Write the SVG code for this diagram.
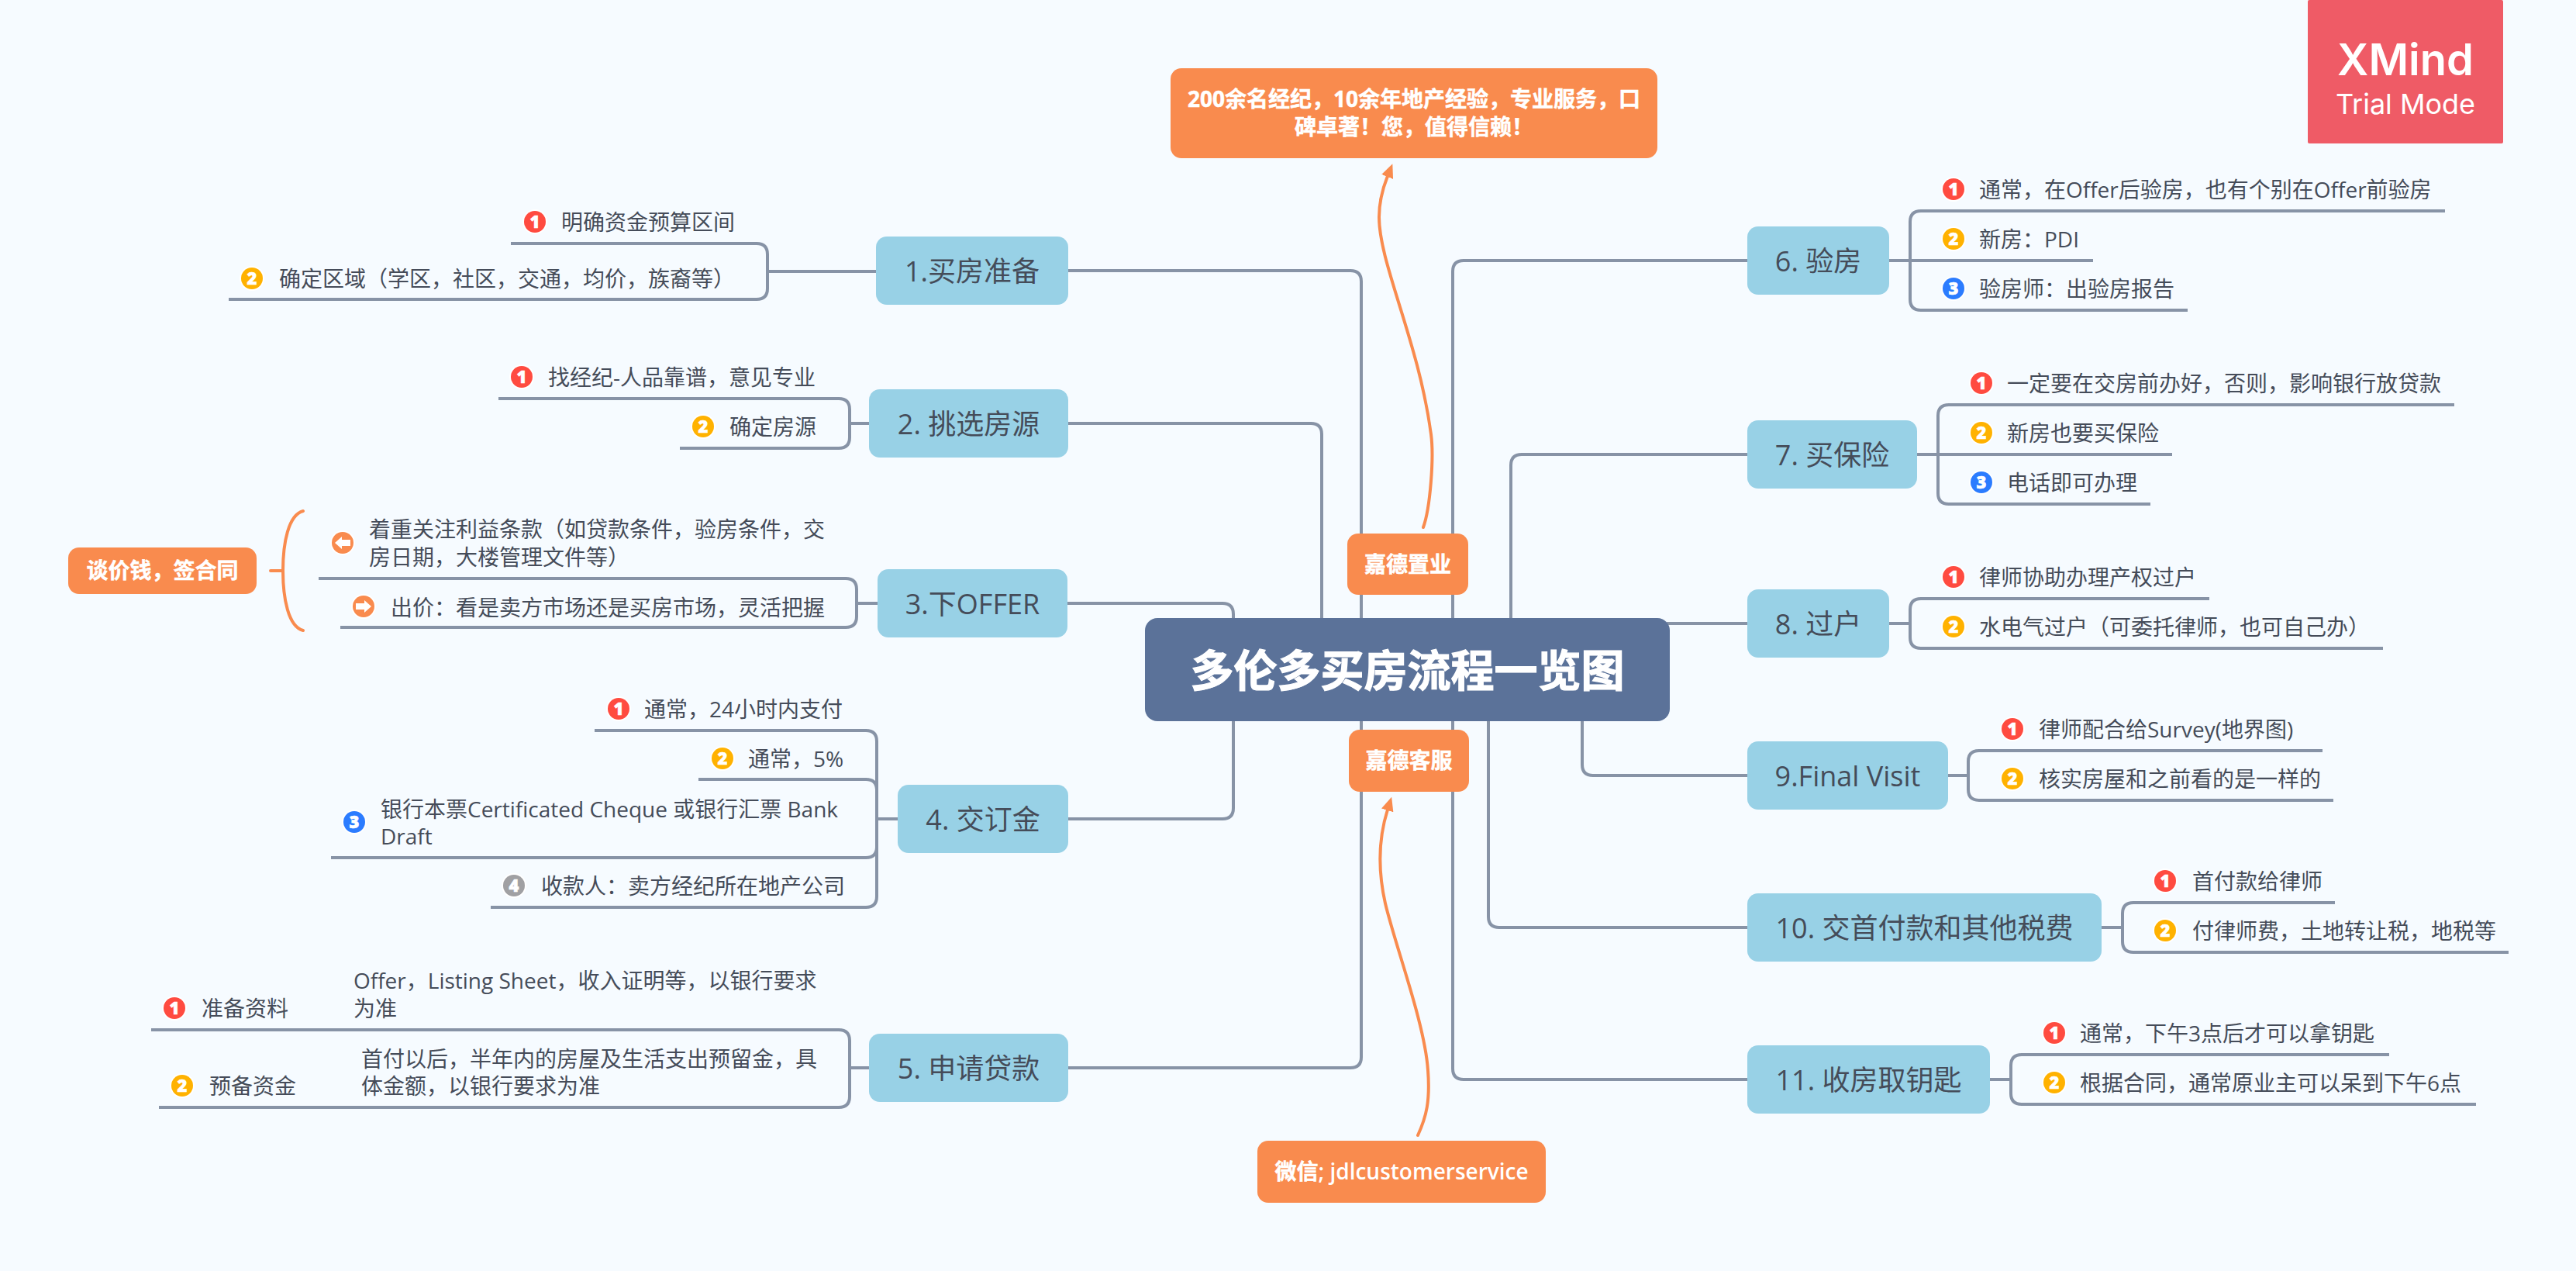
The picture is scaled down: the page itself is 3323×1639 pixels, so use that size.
<svg xmlns="http://www.w3.org/2000/svg" width="3323" height="1639" viewBox="0 0 3323 1639">
<style>
text{font-family:"Open Sans","Noto Sans CJK SC",sans-serif;fill:#454c59}
.s{font-size:28px;transform:translateY(1px)}
.t{font-size:36px;text-anchor:middle;transform:translateY(1px)}
.o{font-size:28px;font-weight:700;fill:#fff;text-anchor:middle;stroke:#fff;stroke-width:.5px}
.o tspan{font-weight:600;stroke-width:0}
.c{font-size:56px;font-weight:700;fill:#fff;text-anchor:middle;stroke:#fff;stroke-width:1.2px;transform:translateY(1px)}
.tb{fill:#98d1e6}
.ob{fill:#f98b4e}
.ln{fill:none;stroke:#8793a6;stroke-width:4}
.ar{fill:none;stroke:#f98b4e;stroke-width:4;stroke-linecap:round}
.ring{fill:#fff}
.d{font-size:22px;font-weight:800;fill:#fff;text-anchor:middle;stroke:#fff;stroke-width:.6px}
.r{fill:#ff4b40}.y{fill:#ffb200}.b{fill:#2b7cff}.g{fill:#a0a0a3}.a{fill:#f98b4e}
.wm{fill:#fff;font-family:Inter,"Open Sans",sans-serif;text-anchor:middle}
</style>
<defs>
<marker id="ah" markerUnits="userSpaceOnUse" markerWidth="18" markerHeight="16" refX="1" refY="8" orient="auto"><path d="M0 0L18 8L0 16Z" fill="#f98b4e"/></marker>
</defs>
<rect width="3323" height="1639" fill="#f6fbff"/>
<g id="connectors">
<path class="ln" d="M1378 349H1742Q1756 349 1756 363V800"/>
<path class="ln" d="M1378 546H1691Q1705 546 1705 560V800"/>
<path class="ln" d="M1377 778H1577Q1591 778 1591 792V800"/>
<path class="ln" d="M1378 1056H1577Q1591 1056 1591 1042V928"/>
<path class="ln" d="M1378 1377H1742Q1756 1377 1756 1363V928"/>
<path class="ln" d="M2254 336H1888Q1874 336 1874 350V800"/>
<path class="ln" d="M2254 586H1963Q1949 586 1949 600V800"/>
<path class="ln" d="M2150 804H2254"/>
<path class="ln" d="M2254 1000H2055Q2041 1000 2041 986V928"/>
<path class="ln" d="M2254 1196H1934Q1920 1196 1920 1182V928"/>
<path class="ln" d="M2254 1392H1888Q1874 1392 1874 1378V928"/>
<path class="ln" d="M659 314H976Q990 314 990 328V372Q990 386 976 386H295M990 350H1130"/>
<path class="ln" d="M643 514H1082Q1096 514 1096 528V564Q1096 578 1082 578H877M1096 546H1121"/>
<path class="ln" d="M411 746H1091Q1105 746 1105 760V795Q1105 809 1091 809H439M1105 778H1132"/>
<path class="ln" d="M767 942H1117Q1131 942 1131 956V1156Q1131 1170 1117 1170H633M901 1005H1117Q1131 1005 1131 1019V1092Q1131 1106 1117 1106H427M1131 1056H1158"/>
<path class="ln" d="M195 1328H1082Q1096 1328 1096 1342V1414Q1096 1428 1082 1428H205M1096 1377H1121"/>
<path class="ln" d="M3154 272H2478Q2464 272 2464 286V386Q2464 400 2478 400H2822M2437 336H2700"/>
<path class="ln" d="M3166 522H2514Q2500 522 2500 536V636Q2500 650 2514 650H2774M2473 586H2802"/>
<path class="ln" d="M2850 772H2478Q2464 772 2464 786V822Q2464 836 2478 836H3074M2437 804H2464"/>
<path class="ln" d="M2996 968H2553Q2539 968 2539 982V1018Q2539 1032 2553 1032H3010M2513 1000H2539"/>
<path class="ln" d="M3012 1164H2752Q2738 1164 2738 1178V1214Q2738 1228 2752 1228H3236M2711 1196H2738"/>
<path class="ln" d="M3082 1360H2608Q2594 1360 2594 1374V1410Q2594 1424 2608 1424H3194M2567 1392H2594"/>
<path class="ar" d="M391 659C372 664 365 700 365 736C365 772 372 808 391 813M349 736H365"/>
<path class="ar" marker-end="url(#ah)" d="M1836 680C1845 655 1850 590 1846 560C1830 440 1779 340 1779 280C1779 262 1784 242 1790 227"/>
<path class="ar" marker-end="url(#ah)" d="M1829 1464C1840 1440 1845 1420 1842 1380C1838 1320 1800 1220 1787 1165C1778 1125 1777 1085 1790 1044"/>
</g>
<g id="center"><rect x="1477" y="797" width="677" height="133" rx="16" fill="#5b7299"/><text class="c" x="1815.500" y="884">多伦多买房流程一览图</text></g>
<g id="topic1"><rect class="tb" x="1130" y="305" width="248" height="88" rx="14"/><text class="t" x="1254" y="362">1.买房准备</text></g>
<g id="topic2"><rect class="tb" x="1121" y="502" width="257" height="88" rx="14"/><text class="t" x="1249.500" y="559">2. 挑选房源</text></g>
<g id="topic3"><rect class="tb" x="1132" y="734" width="245" height="88" rx="14"/><text class="t" x="1254.500" y="791">3.下OFFER</text></g>
<g id="topic4"><rect class="tb" x="1158" y="1012" width="220" height="88" rx="14"/><text class="t" x="1268" y="1069">4. 交订金</text></g>
<g id="topic5"><rect class="tb" x="1121" y="1333" width="257" height="88" rx="14"/><text class="t" x="1249.500" y="1390">5. 申请贷款</text></g>
<g id="topic6"><rect class="tb" x="2254" y="292" width="183" height="88" rx="14"/><text class="t" x="2345.500" y="349">6. 验房</text></g>
<g id="topic7"><rect class="tb" x="2254" y="542" width="219" height="88" rx="14"/><text class="t" x="2363.500" y="599">7. 买保险</text></g>
<g id="topic8"><rect class="tb" x="2254" y="760" width="183" height="88" rx="14"/><text class="t" x="2345.500" y="817">8. 过户</text></g>
<g id="topic9"><rect class="tb" x="2254" y="956" width="259" height="88" rx="14"/><text class="t" x="2383.500" y="1013">9.Final Visit</text></g>
<g id="topic10"><rect class="tb" x="2254" y="1152" width="457" height="88" rx="14"/><text class="t" x="2482.500" y="1209">10. 交首付款和其他税费</text></g>
<g id="topic11"><rect class="tb" x="2254" y="1348" width="313" height="88" rx="14"/><text class="t" x="2410.500" y="1405">11. 收房取钥匙</text></g>
<g id="note-company"><rect class="ob" x="1738" y="688" width="156" height="79" rx="14"/><text class="o" x="1816" y="738">嘉德置业</text></g>
<g id="note-service"><rect class="ob" x="1740" y="941" width="155" height="80" rx="14"/><text class="o" x="1817.500" y="991">嘉德客服</text></g>
<g id="note-agents"><rect class="ob" x="1510" y="88" width="628" height="116" rx="14"/><text class="o" x="1824" y="138">200余名经纪，10余年地产经验，专业服务，口</text><text class="o" x="1824" y="174">碑卓著！您，值得信赖！</text></g>
<g id="note-wechat"><rect class="ob" x="1622" y="1471" width="372" height="80" rx="14"/><text class="o" x="1808" y="1521">微信<tspan>; jdlcustomerservice</tspan></text></g>
<g id="note-price"><rect class="ob" x="88" y="706" width="243" height="60" rx="14"/><text class="o" x="209.500" y="746">谈价钱，签合同</text></g>
<g id="s1-1"><circle class="ring" cx="690" cy="286" r="16"/><circle class="r" cx="690" cy="286" r="14"/><text class="d" x="690" y="294">1</text><text class="s" x="724" y="296">明确资金预算区间</text></g>
<g id="s1-2"><circle class="ring" cx="325" cy="359" r="16"/><circle class="y" cx="325" cy="359" r="14"/><text class="d" x="325" y="367">2</text><text class="s" x="360" y="369">确定区域（学区，社区，交通，均价，族裔等）</text></g>
<g id="s2-1"><circle class="ring" cx="673" cy="486" r="16"/><circle class="r" cx="673" cy="486" r="14"/><text class="d" x="673" y="494">1</text><text class="s" x="707" y="496">找经纪-人品靠谱，意见专业</text></g>
<g id="s2-2"><circle class="ring" cx="907" cy="550" r="16"/><circle class="y" cx="907" cy="550" r="14"/><text class="d" x="907" y="558">2</text><text class="s" x="941" y="560">确定房源</text></g>
<g id="s3-1"><circle class="ring" cx="442" cy="700" r="16"/><circle class="a" cx="442" cy="700" r="14"/><path d="M432 700L441 692V696H452V704H441V708Z" fill="#fff"/><text class="s" x="476" y="692">着重关注利益条款（如贷款条件，验房条件，交</text><text class="s" x="476" y="728">房日期，大楼管理文件等）</text></g>
<g id="s3-2"><circle class="ring" cx="469" cy="782" r="16"/><circle class="a" cx="469" cy="782" r="14"/><path d="M479 782L470 774V778H459V786H470V790Z" fill="#fff"/><text class="s" x="504" y="793">出价：看是卖方市场还是买房市场，灵活把握</text></g>
<g id="s4-1"><circle class="ring" cx="798" cy="914" r="16"/><circle class="r" cx="798" cy="914" r="14"/><text class="d" x="798" y="922">1</text><text class="s" x="831" y="924">通常，24小时内支付</text></g>
<g id="s4-2"><circle class="ring" cx="932" cy="978" r="16"/><circle class="y" cx="932" cy="978" r="14"/><text class="d" x="932" y="986">2</text><text class="s" x="965" y="988">通常，5%</text></g>
<g id="s4-3"><circle class="ring" cx="457" cy="1060" r="16"/><circle class="b" cx="457" cy="1060" r="14"/><text class="d" x="457" y="1068">3</text><text class="s" x="491" y="1053">银行本票Certificated Cheque 或银行汇票 Bank</text><text class="s" x="491" y="1088">Draft</text></g>
<g id="s4-4"><circle class="ring" cx="663" cy="1142" r="16"/><circle class="g" cx="663" cy="1142" r="14"/><text class="d" x="663" y="1150">4</text><text class="s" x="698" y="1152">收款人：卖方经纪所在地产公司</text></g>
<g id="s5-1"><circle class="ring" cx="225" cy="1300" r="16"/><circle class="r" cx="225" cy="1300" r="14"/><text class="d" x="225" y="1308">1</text><text class="s" x="260" y="1310">准备资料</text><text class="s" x="456" y="1274">Offer，Listing Sheet，收入证明等，以银行要求</text><text class="s" x="456" y="1310">为准</text></g>
<g id="s5-2"><circle class="ring" cx="235" cy="1400" r="16"/><circle class="y" cx="235" cy="1400" r="14"/><text class="d" x="235" y="1408">2</text><text class="s" x="270" y="1410">预备资金</text><text class="s" x="466" y="1375">首付以后，半年内的房屋及生活支出预留金，具</text><text class="s" x="466" y="1410">体金额，以银行要求为准</text></g>
<g id="s6-1"><circle class="ring" cx="2520" cy="244" r="16"/><circle class="r" cx="2520" cy="244" r="14"/><text class="d" x="2520" y="252">1</text><text class="s" x="2553" y="254">通常，在Offer后验房，也有个别在Offer前验房</text></g>
<g id="s6-2"><circle class="ring" cx="2520" cy="308" r="16"/><circle class="y" cx="2520" cy="308" r="14"/><text class="d" x="2520" y="316">2</text><text class="s" x="2553" y="318">新房：PDI</text></g>
<g id="s6-3"><circle class="ring" cx="2520" cy="372" r="16"/><circle class="b" cx="2520" cy="372" r="14"/><text class="d" x="2520" y="380">3</text><text class="s" x="2553" y="382">验房师：出验房报告</text></g>
<g id="s7-1"><circle class="ring" cx="2556" cy="494" r="16"/><circle class="r" cx="2556" cy="494" r="14"/><text class="d" x="2556" y="502">1</text><text class="s" x="2589" y="504">一定要在交房前办好，否则，影响银行放贷款</text></g>
<g id="s7-2"><circle class="ring" cx="2556" cy="558" r="16"/><circle class="y" cx="2556" cy="558" r="14"/><text class="d" x="2556" y="566">2</text><text class="s" x="2589" y="568">新房也要买保险</text></g>
<g id="s7-3"><circle class="ring" cx="2556" cy="622" r="16"/><circle class="b" cx="2556" cy="622" r="14"/><text class="d" x="2556" y="630">3</text><text class="s" x="2589" y="632">电话即可办理</text></g>
<g id="s8-1"><circle class="ring" cx="2520" cy="744" r="16"/><circle class="r" cx="2520" cy="744" r="14"/><text class="d" x="2520" y="752">1</text><text class="s" x="2553" y="754">律师协助办理产权过户</text></g>
<g id="s8-2"><circle class="ring" cx="2520" cy="808" r="16"/><circle class="y" cx="2520" cy="808" r="14"/><text class="d" x="2520" y="816">2</text><text class="s" x="2553" y="818">水电气过户（可委托律师，也可自己办）</text></g>
<g id="s9-1"><circle class="ring" cx="2596" cy="940" r="16"/><circle class="r" cx="2596" cy="940" r="14"/><text class="d" x="2596" y="948">1</text><text class="s" x="2630" y="950">律师配合给Survey(地界图)</text></g>
<g id="s9-2"><circle class="ring" cx="2596" cy="1004" r="16"/><circle class="y" cx="2596" cy="1004" r="14"/><text class="d" x="2596" y="1012">2</text><text class="s" x="2630" y="1014">核实房屋和之前看的是一样的</text></g>
<g id="s10-1"><circle class="ring" cx="2793" cy="1136" r="16"/><circle class="r" cx="2793" cy="1136" r="14"/><text class="d" x="2793" y="1144">1</text><text class="s" x="2828" y="1146">首付款给律师</text></g>
<g id="s10-2"><circle class="ring" cx="2793" cy="1200" r="16"/><circle class="y" cx="2793" cy="1200" r="14"/><text class="d" x="2793" y="1208">2</text><text class="s" x="2828" y="1210">付律师费，土地转让税，地税等</text></g>
<g id="s11-1"><circle class="ring" cx="2650" cy="1332" r="16"/><circle class="r" cx="2650" cy="1332" r="14"/><text class="d" x="2650" y="1340">1</text><text class="s" x="2683" y="1342">通常，下午3点后才可以拿钥匙</text></g>
<g id="s11-2"><circle class="ring" cx="2650" cy="1396" r="16"/><circle class="y" cx="2650" cy="1396" r="14"/><text class="d" x="2650" y="1404">2</text><text class="s" x="2683" y="1406">根据合同，通常原业主可以呆到下午6点</text></g>
<g id="watermark"><rect x="2977" y="0" width="252" height="185" rx="2" fill="#ef5b66"/><text class="wm" x="3103" y="97" font-size="56" font-weight="600" style="fill:#fff">XMind</text><text class="wm" x="3103" y="147" font-size="36" style="fill:#fff">Trial Mode</text></g>
</svg>
